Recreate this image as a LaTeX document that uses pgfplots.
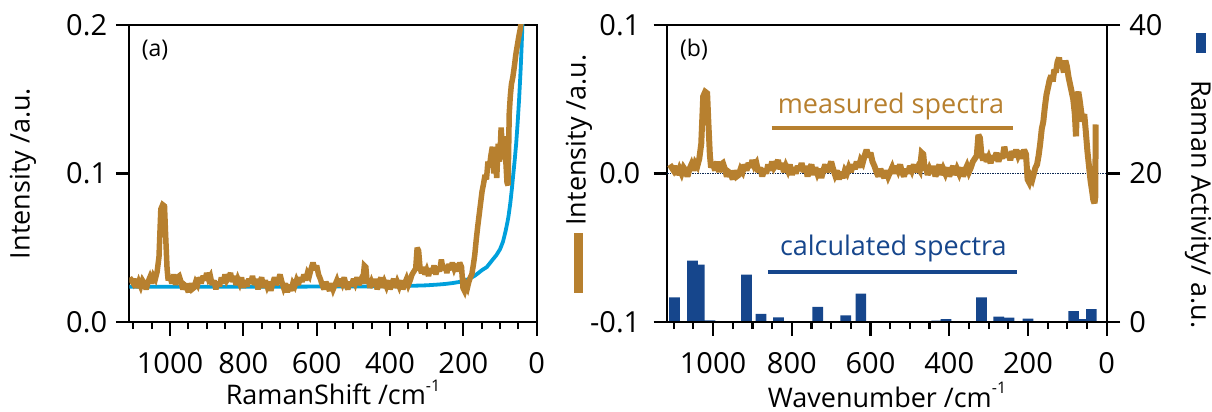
\documentclass[border=0pt]{standalone}
\usepackage{fontspec}
\setmainfont{Open Sans}
\usepackage{pgfplots}
\pgfplotsset{compat=1.18}
\usepackage{pgfplotstable}
\definecolor{brn}{RGB}{183,128,47}
\definecolor{cyn}{RGB}{0,160,220}
\definecolor{nvy}{RGB}{22,70,140}

\pgfplotstableread{
x a b
1110 0.030 0.006
1105 0.028 0.004
1100 0.026 0.002
1095 0.029 0.005
1090 0.023 -0.001
1085 0.027 0.003
1080 0.024 0.000
1075 0.028 0.004
1070 0.026 0.002
1065 0.022 -0.002
1060 0.027 0.003
1055 0.030 0.006
1050 0.026 0.002
1045 0.031 0.007
1040 0.029 0.005
1035 0.034 0.010
1030 0.044 0.020
1025 0.076 0.052
1020 0.079 0.055
1015 0.078 0.054
1012 0.059 0.035
1008 0.036 0.012
1005 0.028 0.004
1000 0.031 0.007
995 0.026 0.002
990 0.032 0.008
985 0.025 0.001
980 0.030 0.006
975 0.031 0.007
970 0.027 0.003
965 0.022 -0.002
960 0.025 0.001
955 0.024 0.000
950 0.020 -0.004
945 0.026 0.002
940 0.022 -0.002
935 0.023 -0.001
930 0.027 0.003
925 0.025 0.001
920 0.030 0.006
915 0.026 0.002
910 0.031 0.007
905 0.028 0.004
900 0.033 0.009
895 0.029 0.005
890 0.031 0.007
885 0.025 0.001
880 0.028 0.004
875 0.022 -0.002
870 0.027 0.003
865 0.024 0.000
860 0.030 0.006
855 0.026 0.002
850 0.032 0.008
845 0.028 0.004
840 0.030 0.006
835 0.033 0.009
830 0.027 0.003
825 0.031 0.007
820 0.025 0.001
815 0.029 0.005
810 0.026 0.002
805 0.030 0.006
800 0.023 -0.001
795 0.028 0.004
790 0.024 0.000
785 0.029 0.005
780 0.026 0.002
775 0.031 0.007
770 0.025 0.001
765 0.029 0.005
760 0.022 -0.002
755 0.027 0.003
750 0.030 0.006
745 0.023 -0.001
740 0.028 0.004
735 0.024 0.000
730 0.027 0.003
725 0.021 -0.003
720 0.026 0.002
715 0.030 0.006
710 0.025 0.001
705 0.028 0.004
700 0.032 0.008
695 0.027 0.003
690 0.023 -0.001
685 0.026 0.002
680 0.020 -0.004
675 0.025 0.001
670 0.021 -0.003
665 0.026 0.002
660 0.024 0.000
655 0.028 0.004
650 0.025 0.001
645 0.030 0.006
640 0.027 0.003
635 0.032 0.008
630 0.028 0.004
625 0.033 0.009
620 0.031 0.007
615 0.036 0.012
610 0.040 0.016
605 0.035 0.011
600 0.038 0.014
595 0.032 0.008
590 0.029 0.005
585 0.025 0.001
580 0.022 -0.002
575 0.027 0.003
570 0.024 0.000
565 0.021 -0.003
560 0.026 0.002
555 0.022 -0.002
550 0.025 0.001
545 0.028 0.004
540 0.024 0.000
535 0.029 0.005
530 0.026 0.002
525 0.030 0.006
520 0.025 0.001
515 0.022 -0.002
510 0.027 0.003
505 0.024 0.000
500 0.029 0.005
495 0.026 0.002
490 0.030 0.006
485 0.025 0.001
480 0.028 0.004
475 0.026 0.002
470 0.038 0.014
466 0.037 0.013
462 0.026 0.002
458 0.028 0.004
455 0.023 -0.001
450 0.027 0.003
445 0.024 0.000
440 0.029 0.005
435 0.022 -0.002
430 0.026 0.002
425 0.030 0.006
420 0.023 -0.001
415 0.027 0.003
410 0.024 0.000
405 0.028 0.004
400 0.022 -0.002
395 0.026 0.002
390 0.029 0.005
385 0.023 -0.001
380 0.027 0.003
375 0.024 0.000
370 0.028 0.004
365 0.022 -0.002
360 0.026 0.002
355 0.029 0.005
350 0.025 0.001
345 0.028 0.004
340 0.032 0.008
335 0.034 0.010
330 0.036 0.012
326 0.050 0.026
322 0.048 0.024
318 0.036 0.012
314 0.033 0.009
310 0.037 0.013
305 0.032 0.008
300 0.035 0.011
295 0.031 0.007
290 0.036 0.012
285 0.033 0.009
280 0.038 0.014
275 0.032 0.008
270 0.037 0.013
265 0.034 0.010
260 0.042 0.018
255 0.035 0.011
250 0.038 0.014
245 0.033 0.009
240 0.039 0.015
235 0.035 0.011
230 0.040 0.016
225 0.036 0.012
220 0.039 0.015
215 0.034 0.010
210 0.040 0.016
205 0.037 0.013
201 0.023 -0.004
197 0.021 -0.006
193 0.025 -0.002
189 0.023 -0.004
185 0.027 0.000
181 0.030 0.004
177 0.032 0.006
173 0.038 0.012
169 0.045 0.020
165 0.055 0.030
161 0.064 0.035
157 0.072 0.045
153 0.080 0.053
149 0.088 0.058
145 0.093 0.063
141 0.099 0.066
137 0.096 0.062
133 0.108 0.070
129 0.104 0.068
125 0.112 0.075
121 0.118 0.078
117 0.100 0.071
113 0.110 0.074
109 0.097 0.068
105 0.120 0.076
101 0.108 0.072
97 0.131 0.065
93 0.115 0.060
89 0.125 0.055
85 0.112 0.050
81 0.094 0.040
78 0.092 0.025
75 0.140 0.052
72 0.152 0.055
69 0.160 0.050
65 0.165 0.042
61 0.172 0.035
57 0.180 0.040
53 0.186 0.028
49 0.192 0.015
45 0.197 0.005
41 0.205 -0.005
37 0.215 -0.012
34 0.220 -0.018
31 0.220 -0.020
29 0.220 -0.016
28 0.220 0.033
}\spec

\pgfplotstableread{
x y
1111 0.0238
900 0.0238
700 0.0238
500 0.0239
400 0.0241
350 0.0243
300 0.0247
270 0.0252
250 0.0256
230 0.0262
210 0.0270
200 0.0276
190 0.0285
180 0.0296
170 0.0310
160 0.0328
150 0.0348
136 0.0370
120 0.0420
110 0.0450
100 0.0490
92 0.0540
85 0.0610
80 0.0670
77 0.0710
72 0.0800
68 0.0890
64 0.0990
60 0.1090
56 0.1200
52 0.1340
48 0.1500
44 0.1690
41 0.1860
38 0.2070
}\cyanbase

\pgfplotstableread{
x h
1098 3.3
1052 8.26
1035 7.72
1008 0.22
915 6.37
878 1.08
834 0.63
806 0.10
734 2.02
663 0.90
624.5 3.82
432 0.18
408 0.40
318 3.32
274 0.72
248 0.58
200 0.45
84 1.48
61.5 0.40
39 1.75
}\bars

\pgfplotsset{
  myaxis/.style={
    scale only axis, height=297pt,
    x dir=reverse, xmin=0,
    /pgf/number format/assume math mode=true,
    /pgf/number format/1000 sep={},
    tick align=outside,
    major tick length=13.5pt, minor tick length=7pt,
    tick style={line width=2.2pt, black},
    axis line style={line width=2.2pt, black},
    ticklabel style={font=\fontsize{29}{29}\selectfont, inner sep=0pt},
    xtick={0,200,400,600,800,1000},
    xticklabels={0,200,400,600,800,1000},
    minor xtick={50,100,150,250,300,350,450,500,550,650,700,750,850,900,950,1050,1100},
    xticklabel style={anchor=north, yshift=-16.5pt},
    xtick pos=left, ytick pos=left,
  }
}

\begin{document}
\begin{tikzpicture}
\useasboundingbox (0,0) rectangle (1212pt,412pt);

% ---------- panel (a)
\begin{axis}[myaxis, at={(129.3pt,90pt)}, anchor=south west,
  width=407.4pt, xmax=1111, ymin=0, ymax=0.2,
  ytick={0,0.1,0.2}, yticklabels={0.0,0.1,0.2},
  yticklabel style={anchor=east, xshift=-8.5pt},
  clip=true]
\addplot[cyn, line width=3.8pt, line join=round] table[x=x,y=y] {\cyanbase};
\addplot[brn, line width=5.5pt, line join=miter, miter limit=3] table[x=x,y=a] {\spec};
\end{axis}

% ---------- panel (b): bars on the right axis
\begin{axis}[myaxis, at={(667pt,90pt)}, anchor=south west,
  width=439.7pt, xmax=1117, ymin=0, ymax=40,
  axis y line*=right, axis x line=none,
  ytick={0,20,40}, ytick pos=right,
  yticklabel style={anchor=west, xshift=9pt}]
\addplot[ybar, bar width=27.2, bar shift=0pt, fill=nvy, draw=none] table[x=x,y=h] {\bars};
\end{axis}

% ---------- panel (b): measured spectrum on the left axis
\begin{axis}[myaxis, at={(667pt,90pt)}, anchor=south west,
  width=439.7pt, xmax=1117, ymin=-0.1, ymax=0.1,
  ytick={-0.1,0,0.1}, yticklabels={-0.1,0.0,0.1},
  yticklabel style={anchor=east, xshift=-13pt}]
\addplot[nvy!60!black, line width=1.5pt, densely dotted] coordinates {(1117,0) (0,0)};
\addplot[brn, line width=6pt, line join=miter, miter limit=3] table[x=x,y=b] {\spec};
\draw[brn, line width=4.5pt] (axis cs:851,0.0306) -- (axis cs:237,0.0306);
\draw[nvy, line width=4.5pt] (axis cs:861,-0.0663) -- (axis cs:228,-0.0663);
\node[brn, anchor=base, inner sep=0pt, font=\fontsize{27}{27}\selectfont] at (axis cs:548,0.0407) {measured spectra};
\node[nvy, anchor=base, inner sep=0pt, font=\fontsize{27}{27}\selectfont] at (axis cs:542,-0.0549) {calculated spectra};
\end{axis}

% ---------- labels
\node[inner sep=0pt, font=\fontsize{23}{23}\selectfont] at (155pt,362pt) {(a)};
\node[inner sep=0pt, font=\fontsize{23}{23}\selectfont] at (694pt,362pt) {(b)};
\node[inner sep=0pt, rotate=90, font=\fontsize{27}{27}\selectfont] at (23pt,238.5pt) {Intensity /a.u.};
\node[inner sep=0pt, rotate=90, font=\fontsize{27}{27}\selectfont] at (579pt,238.5pt)
  {{\color{brn}\rule[3pt]{60pt}{9pt}}\hspace{7pt}Intensity /a.u.};
\node[inner sep=0pt, rotate=-90, anchor=west, font=\fontsize{27}{27}\selectfont] at (1198pt,379pt)
  {{\color{nvy}\rule[5pt]{20pt}{10pt}}\hspace{27pt}Raman Activity/ a.u.};
\node[inner sep=0pt, anchor=base, font=\fontsize{27}{27}\selectfont] at (333pt,7pt)
  {RamanShift /cm\raisebox{13pt}{\fontsize{16}{16}\selectfont -1}};
\node[inner sep=0pt, anchor=base, font=\fontsize{27}{27}\selectfont] at (887pt,5pt)
  {Wavenumber /cm\raisebox{13pt}{\fontsize{16}{16}\selectfont -1}};
\end{tikzpicture}
\end{document}
